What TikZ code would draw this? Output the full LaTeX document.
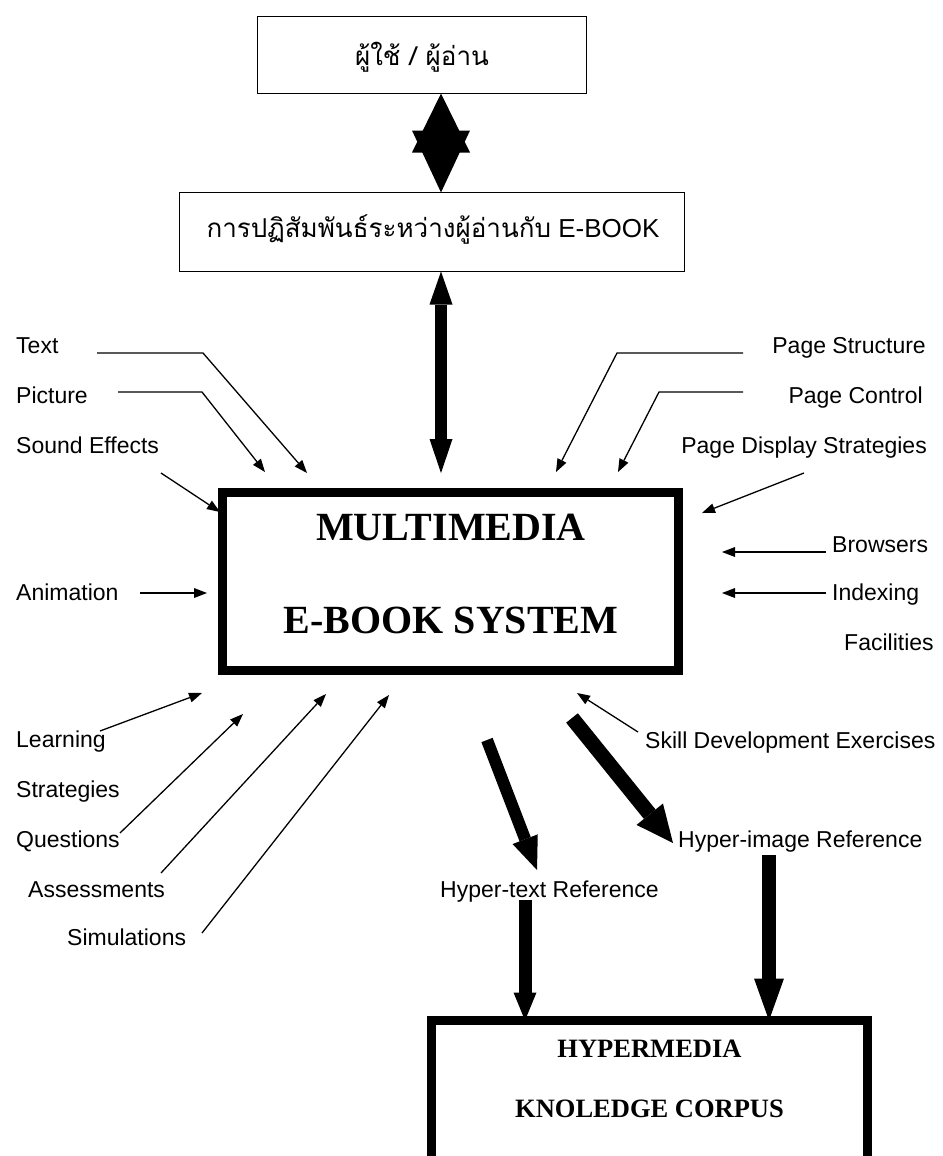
\documentclass[tikz,border=0pt]{standalone}
\usepackage{fontspec}
\setmainfont{Liberation Sans}
\newfontfamily\thaifont[Script=Thai]{Loma}
\newfontfamily\titleserif{Liberation Serif}
\usetikzlibrary{arrows.meta}

\begin{document}
\begin{tikzpicture}[x=1pt,y=-1pt,
  lbl/.style={font=\fontsize{23}{27}\selectfont, inner sep=0pt},
  thtext/.style={font=\fontsize{26}{30}\selectfont, inner sep=0pt},
  thinbox/.style={draw, line width=1.4pt, inner sep=0pt, outer sep=0pt},
  heavybox/.style={draw, line width=9pt, inner sep=0pt, outer sep=0pt},
  maintitle/.style={font=\titleserif\bfseries\fontsize{40}{44}\selectfont, inner sep=0pt},
  corpustitle/.style={font=\titleserif\bfseries\fontsize{26.5}{30}\selectfont, inner sep=0pt},
  feed/.style={line width=1.3pt, -{Triangle[length=13pt,width=10pt,line width=0pt]}},
  linkboth/.style={line width=12pt,
    {Triangle[length=33pt,width=23pt,line width=0pt]}-{Triangle[length=34pt,width=23pt,line width=0pt]}},
  linkA/.style={line width=12pt, -{Triangle[length=33pt,width=27pt,line width=0pt]}},
  linkB/.style={line width=15pt, -{Triangle[length=37pt,width=34pt,line width=0pt]}},
  linkC/.style={line width=13pt, -{Triangle[length=28pt,width=23pt,line width=0pt]}},
  linkD/.style={line width=14pt, -{Triangle[length=42pt,width=30pt,line width=0pt]}},
  star/.style={fill=black}]

\useasboundingbox (0,0) rectangle (942,1156);
\clip (0,0) rectangle (942,1156);

% ---- boxes ----
\node[thinbox, minimum width=329pt, minimum height=77pt] (user) at (422,55) {};
\node[thtext, anchor=base] (userT) at (422,66) {\thaifont ผู้ใช้ / ผู้อ่าน};

\node[thinbox, minimum width=505pt, minimum height=79pt] (inter) at (432,232) {};
\node[thtext, anchor=base] (interT) at (433,237) {{\thaifont การปฏิสัมพันธ์ระหว่างผู้อ่านกับ} E-BOOK};

\node[heavybox, minimum width=456pt, minimum height=178pt] (ebook) at (450.5,581.5) {};
\node[maintitle, anchor=base] (ebookA) at (451,540) {MULTIMEDIA};
\node[maintitle, anchor=base] (ebookB) at (451,633) {E-BOOK SYSTEM};

\node[heavybox, minimum width=436pt, minimum height=240pt, anchor=north] (corpus) at (649.5,1020.5) {};
\node[corpustitle, anchor=base] (corpusA) at (649.5,1057) {HYPERMEDIA};
\node[corpustitle, anchor=base] (corpusB) at (649.5,1117) {KNOLEDGE CORPUS};

% ---- two-way link between the user box and the interaction box ----
\coordinate (sUp) at (user.south -| 441,0);
\coordinate (sDn) at (inter.north -| 441,0);
\fill[star] (sUp) -- ++(-29,59) -- ++(58,0) -- cycle;
\fill[star] (sDn) -- ++(-29,-62) -- ++(58,0) -- cycle;

% ---- two-way link between the interaction box and the system ----
\coordinate (dTop) at (inter.south -| 441,0);
\coordinate (dBot) at (441,473);
\draw[linkboth] (dTop) -- (dBot);

% ---- left-hand inputs ----
\node[lbl, anchor=base west] (text) at (16,353) {Text};
\node[lbl, anchor=base west] (picture) at (16,403) {Picture};
\node[lbl, anchor=base west] (sound) at (16,453) {Sound Effects};
\node[lbl, anchor=base west] (anim) at (16,600) {Animation};
\node[lbl, anchor=base west] (learn) at (16,747) {Learning};
\node[lbl, anchor=base west] (strat) at (16,797) {Strategies};
\node[lbl, anchor=base west] (quest) at (16,847) {Questions};
\node[lbl, anchor=base west] (assess) at (28,897) {Assessments};
\node[lbl, anchor=base west] (simul) at (67,945) {Simulations};

\coordinate (tx0) at (97,353);  \coordinate (tx1) at (203,353);  \coordinate (tx2) at (307,473);
\coordinate (pc0) at (118,392); \coordinate (pc1) at (202,392);  \coordinate (pc2) at (265,472);
\coordinate (se0) at (161,473); \coordinate (se1) at (220,512);
\coordinate (an0) at (140,593); \coordinate (an1) at (207,593);
\coordinate (le0) at (100,731); \coordinate (le1) at (202,693);
\coordinate (qu0) at (120,833); \coordinate (qu1) at (243,714);
\coordinate (as0) at (161,873); \coordinate (as1) at (326,694);
\coordinate (si0) at (202,933); \coordinate (si1) at (389,695);

\draw[feed] (tx0) -- (tx1) -- (tx2);
\draw[feed] (pc0) -- (pc1) -- (pc2);
\draw[feed] (se0) -- (se1);
\draw[feed] (an0) -- (an1);
\draw[feed] (le0) -- (le1);
\draw[feed] (qu0) -- (qu1);
\draw[feed] (as0) -- (as1);
\draw[feed] (si0) -- (si1);

% ---- right-hand inputs ----
\node[lbl, anchor=base east] (pstruct) at (926,353) {Page Structure};
\node[lbl, anchor=base east] (pctrl) at (923,403) {Page Control};
\node[lbl, anchor=base east] (pdisp) at (927,453) {Page Display Strategies};
\node[lbl, anchor=base west] (brows) at (832,552) {Browsers};
\node[lbl, anchor=base west] (index) at (832,600) {Indexing};
\node[lbl, anchor=base west] (facil) at (844,650) {Facilities};
\node[lbl, anchor=base west] (skill) at (645,748) {Skill Development Exercises};

\coordinate (ps0) at (743,353); \coordinate (ps1) at (617,353); \coordinate (ps2) at (556,472);
\coordinate (pk0) at (743,392); \coordinate (pk1) at (659,392); \coordinate (pk2) at (618,472);
\coordinate (pd0) at (804,473); \coordinate (pd1) at (702,513);
\coordinate (br0) at (826,552); \coordinate (br1) at (722,552);
\coordinate (ix0) at (826,593); \coordinate (ix1) at (722,593);
\coordinate (sk0) at (638,732); \coordinate (sk1) at (577,693);

\draw[feed] (ps0) -- (ps1) -- (ps2);
\draw[feed] (pk0) -- (pk1) -- (pk2);
\draw[feed] (pd0) -- (pd1);
\draw[feed] (br0) -- (br1);
\draw[feed] (ix0) -- (ix1);
\draw[feed] (sk0) -- (sk1);

% ---- outputs towards the hypermedia corpus ----
\node[lbl, anchor=base west] (htext) at (440,897) {Hyper-text Reference};
\node[lbl, anchor=base west] (himage) at (678,847) {Hyper-image Reference};

\coordinate (ht0) at (487,740); \coordinate (ht1) at (537,870);
\coordinate (hi0) at (572,718); \coordinate (hi1) at (673,843);
\coordinate (hd0) at (525,900);
\coordinate (hm0) at (769,855);

\draw[linkA] (ht0) -- (ht1);
\draw[linkB] (hi0) -- (hi1);
\draw[linkC] (hd0) -- (hd0 |- corpus.north);
\draw[linkD] (hm0) -- (hm0 |- corpus.north);

\end{tikzpicture}
\end{document}
